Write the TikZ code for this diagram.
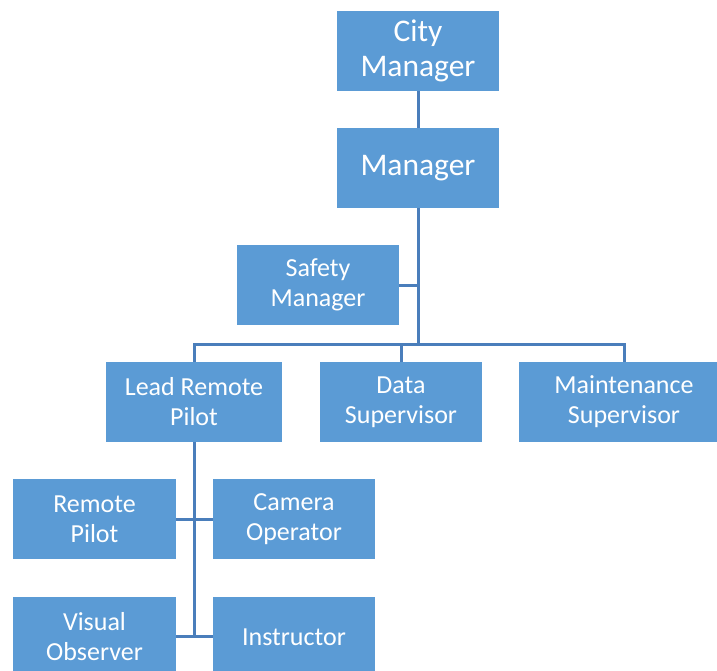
\documentclass[tikz,border=0pt]{standalone}
\usepackage{fontspec}
\setmainfont{Carlito}
\definecolor{boxblue}{HTML}{5B9BD5}
\definecolor{linkblue}{HTML}{4A7EBB}
\begin{document}
\begin{tikzpicture}[x=1pt,y=-1pt,
  unit/.style={rectangle, fill=boxblue, text=white, inner sep=0pt,
    align=center, font=\fontsize{26}{30}\selectfont},
  topunit/.style={unit, font=\fontsize{31.5}{35}\selectfont},
  link/.style={draw=linkblue, line width=3pt}]
\useasboundingbox (0,0) rectangle (717,671);
\clip (0,0) rectangle (717,671);

% top of the chain
\node[topunit, minimum width=162pt, minimum height=80pt] (city) at (418,51) {City\\Manager};
\node[topunit, minimum width=162pt, minimum height=80pt] (mgr) at (418,168) {Manager};
\node[unit, minimum width=162pt, minimum height=80pt] (safety) at (318,285) {Safety\\Manager};

% second level
\node[unit, minimum width=176pt, minimum height=80pt] (lead) at (194,402) {Lead Remote\\Pilot};
\node[unit, minimum width=162pt, minimum height=80pt] (data) at (401,402) {Data\\Supervisor};
\node[unit, minimum width=210pt, minimum height=80pt] (maint) at (624,402) {Maintenance\\Supervisor};

% flight crew
\node[unit, minimum width=163pt, minimum height=80pt] (rpilot) at (94.5,519) {Remote\\Pilot};
\node[unit, minimum width=162pt, minimum height=80pt] (camera) at (294,519) {Camera\\Operator};
\node[unit, minimum width=163pt, minimum height=80pt] (visual) at (94.5,637) {Visual\\Observer};
\node[unit, minimum width=162pt, minimum height=80pt] (instr) at (294,637) {Instructor};

% junction points
\coordinate (bus) at (418,344);
\coordinate (busL) at (194,344);
\coordinate (busR) at (624,344);
\coordinate (crewA) at (194,519);
\coordinate (crewB) at (194,636);

% connectors
\draw[link] (city.south) -- (mgr.north);
\draw[link] (mgr.south) -- (bus);
\draw[link] (safety.east) -- (safety.east -| bus);
\draw[link] (lead.north) -- (busL) -- (busR) -- (maint.north);
\draw[link] (data.north) -- (data.north |- bus);
\draw[link] (lead.south) -- (crewB);
\draw[link] (rpilot.east) -- (camera.west);
\draw[link] (visual.east |- crewB) -- (instr.west |- crewB);
\end{tikzpicture}
\end{document}
